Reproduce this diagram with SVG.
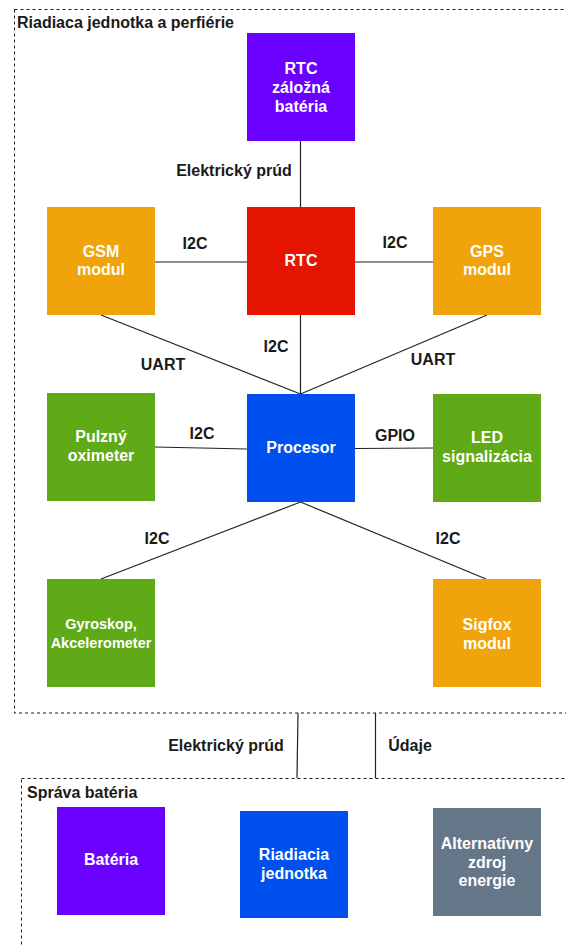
<svg xmlns="http://www.w3.org/2000/svg" width="566" height="946" viewBox="0 0 566 946">
<style>
text{font-family:"Liberation Sans",Arial,sans-serif;font-weight:bold;}
.n{font-size:16px;fill:#ffffff;text-anchor:middle;}
.s{font-size:14.5px;fill:#ffffff;text-anchor:middle;}
.l{font-size:16px;fill:#1a1a1a;text-anchor:middle;}
.c{font-size:16px;fill:#1a1a1a;}
.cont{fill:none;stroke:#1a1a1a;stroke-width:1;stroke-dasharray:3 3;}
.e{fill:none;stroke:#222222;stroke-width:1.2;}
.purple{fill:#6a00ff;}
.red{fill:#e51400;}
.orange{fill:#f0a30a;}
.blue{fill:#0050ef;}
.green{fill:#60a917;}
.grey{fill:#647687;}
</style>
<rect width="566" height="946" fill="#ffffff"/>
<g id="container-riadiaca">
<rect class="cont" x="14.5" y="9.5" width="600" height="703.5"/>
<text class="c" x="17" y="28">Riadiaca jednotka a perfiérie</text>
</g>
<g id="container-sprava">
<rect class="cont" x="21.5" y="778.5" width="600" height="200"/>
<text class="c" x="27" y="798">Správa batéria</text>
</g>
<g id="connectors">
<line class="e" x1="300.5" y1="141" x2="300.5" y2="207"/>
<line class="e" x1="155" y1="262" x2="247" y2="262"/>
<line class="e" x1="355" y1="262" x2="433" y2="262"/>
<line class="e" x1="101" y1="315" x2="300.5" y2="394"/>
<line class="e" x1="300.5" y1="315" x2="300.5" y2="394"/>
<line class="e" x1="487" y1="315" x2="300.5" y2="394"/>
<line class="e" x1="155" y1="447" x2="247" y2="449"/>
<line class="e" x1="355" y1="448.5" x2="433" y2="448"/>
<line class="e" x1="300.5" y1="502" x2="101" y2="579"/>
<line class="e" x1="300.5" y1="502" x2="486" y2="579"/>
<line class="e" x1="298" y1="713" x2="297" y2="778"/>
<line class="e" x1="375.5" y1="713" x2="375.5" y2="778"/>
<text class="l" x="234" y="176">Elektrický prúd</text>
<text class="l" x="195" y="249">I2C</text>
<text class="l" x="395" y="248">I2C</text>
<text class="l" x="163" y="370">UART</text>
<text class="l" x="276" y="352">I2C</text>
<text class="l" x="433" y="365">UART</text>
<text class="l" x="202" y="439">I2C</text>
<text class="l" x="395" y="441">GPIO</text>
<text class="l" x="157" y="544">I2C</text>
<text class="l" x="448" y="544">I2C</text>
<text class="l" x="226" y="751">Elektrický prúd</text>
<text class="l" x="410" y="751">Údaje</text>
</g>
<g id="rtc-zalozna-bateria">
<rect class="purple" x="247" y="33" width="108" height="108"/>
<text class="n" x="301" y="74">RTC</text>
<text class="n" x="301" y="93">záložná</text>
<text class="n" x="301" y="112">batéria</text>
</g>
<g id="gsm-modul">
<rect class="orange" x="47" y="207" width="108" height="108"/>
<text class="n" x="101" y="257">GSM</text>
<text class="n" x="101" y="275">modul</text>
</g>
<g id="rtc">
<rect class="red" x="247" y="207" width="108" height="108"/>
<text class="n" x="301" y="266">RTC</text>
</g>
<g id="gps-modul">
<rect class="orange" x="433" y="207" width="108" height="108"/>
<text class="n" x="487" y="257">GPS</text>
<text class="n" x="487" y="275">modul</text>
</g>
<g id="pulzny-oximeter">
<rect class="green" x="47" y="393" width="108" height="108"/>
<text class="n" x="101" y="442">Pulzný</text>
<text class="n" x="101" y="461">oximeter</text>
</g>
<g id="procesor">
<rect class="blue" x="247" y="394" width="108" height="108"/>
<text class="n" x="301" y="453">Procesor</text>
</g>
<g id="led-signalizacia">
<rect class="green" x="433" y="394" width="108" height="108"/>
<text class="n" x="487" y="443">LED</text>
<text class="n" x="487" y="462">signalizácia</text>
</g>
<g id="gyroskop">
<rect class="green" x="47" y="579" width="108" height="108"/>
<text class="s" x="101" y="629">Gyroskop,</text>
<text class="s" x="101" y="648">Akcelerometer</text>
</g>
<g id="sigfox-modul">
<rect class="orange" x="433" y="579" width="108" height="108"/>
<text class="n" x="487" y="630">Sigfox</text>
<text class="n" x="487" y="649">modul</text>
</g>
<g id="bateria">
<rect class="purple" x="57" y="807" width="108" height="108"/>
<text class="n" x="111" y="865">Batéria</text>
</g>
<g id="riadiacia-jednotka">
<rect class="blue" x="240" y="811" width="108" height="107"/>
<text class="n" x="294" y="860">Riadiacia</text>
<text class="n" x="294" y="879">jednotka</text>
</g>
<g id="alternativny-zdroj">
<rect class="grey" x="433" y="808" width="108" height="108"/>
<text class="n" x="487" y="849">Alternatívny</text>
<text class="n" x="487" y="868">zdroj</text>
<text class="n" x="487" y="886">energie</text>
</g>
</svg>
